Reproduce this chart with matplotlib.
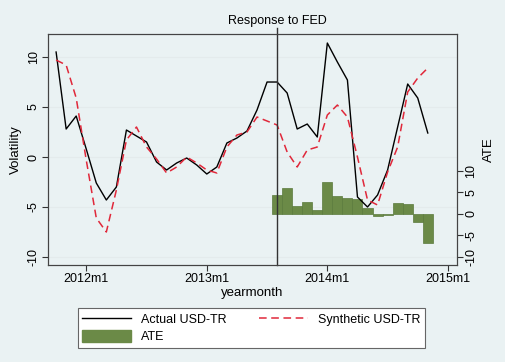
import numpy as np
import matplotlib
matplotlib.use("Agg")
from matplotlib import pyplot as plt
from matplotlib.lines import Line2D
from matplotlib.patches import Patch
from matplotlib.transforms import blended_transform_factory

plt.rcParams['font.family'] = ['Liberation Sans', 'DejaVu Sans']

# Stata %tm month numbers: 2012m1 = 624
months = np.arange(621, 659)
actual = [10.5, 2.8, 4.1, 0.8, -2.6, -4.3, -3.0, 2.7, 2.1, 1.5, -0.5, -1.3,
          -0.6, -0.1, -0.8, -1.7, -1.0, 1.4, 1.9, 2.6, 4.7, 7.5, 7.5, 6.4,
          2.8, 3.3, 2.0, 11.4, 9.5, 7.7, -4.0, -5.0, -3.8, -1.3, 3.0, 7.3,
          5.9, 2.4]
synthetic = [9.7, 9.2, 5.9, -0.3, -6.1, -7.5, -3.3, 1.7, 3.0, 1.0, -0.2, -1.6,
             -1.0, 0.0, -0.6, -1.3, -1.6, 1.0, 2.2, 2.5, 4.0, 3.6, 3.2, 0.5,
             -1.0, 0.7, 1.0, 4.2, 5.2, 4.0, 0.0, -4.3, -4.8, -1.5, 1.0, 6.5,
             7.9, 8.9]
ate_months = np.arange(643, 659)
ate = [4.4, 6.0, 1.9, 2.7, 0.9, 7.5, 4.2, 3.6, 3.4, 1.3, -0.4, -0.2,
       2.5, 2.3, -2.0, -6.7]
fed_month = 643
xticks = [624, 636, 648, 660]
xticklabels = ['2012m1', '2013m1', '2014m1', '2015m1']
yticks = [-10, -5, 0, 5, 10]

bg = '#eaf2f3'
fig = plt.figure(figsize=(5.06, 3.62), dpi=100, facecolor=bg)
ax = fig.add_axes([0.095, 0.268, 0.808, 0.638])
ax2 = ax.twinx()

# grid of the left axis, drawn behind the bars
gridtrans = blended_transform_factory(ax2.transAxes, ax.transData)
for y in yticks:
    ax2.plot([0, 1], [y, y], transform=gridtrans, color='#e4ebec', lw=0.8, zorder=0)

ax2.bar(ate_months, ate, width=1.0, color='#6b8a47', edgecolor='#5a7a3c', linewidth=0.5, zorder=2)
ax2.set_ylim(-11.9, 41.9)
ax2.set_yticks(yticks)
ax2.set_yticklabels([str(v) for v in yticks], rotation=90, va='center', fontsize=9)
ax2.set_ylabel('ATE', fontsize=9.5, labelpad=4)
ax2.patch.set_facecolor('white')

ax.set_zorder(ax2.get_zorder() + 1)
ax.patch.set_visible(False)
ax.plot(months, actual, color='black', lw=1.0)
ax.plot(months, synthetic, color='#e0283a', lw=1.1, ls=(0, (5, 3)))
ax.plot([fed_month, fed_month], [0, 1.025], transform=ax.get_xaxis_transform(),
        color='#333333', lw=1.0, clip_on=False)
ax.text(fed_month, 1.03, 'Response to FED', transform=ax.get_xaxis_transform(),
        ha='center', va='bottom', fontsize=9)

ax.set_xlim(620.2, 660.9)
ax.set_ylim(-10.8, 12.3)
ax.set_xticks(xticks)
ax.set_xticklabels(xticklabels, fontsize=9)
ax.set_yticks(yticks)
ax.set_yticklabels([str(v) for v in yticks], rotation=90, va='center', fontsize=9)
ax.set_ylabel('Volatility', fontsize=9.5, labelpad=4)
ax.set_xlabel('yearmonth', fontsize=9.5, labelpad=1)

for a in (ax, ax2):
    a.tick_params(direction='out', length=4, width=0.8, color='#333333', pad=2)
    for s in a.spines.values():
        s.set_color('#444444')
        s.set_linewidth(0.8)

handles = [Line2D([], [], color='black', lw=1.0),
           Patch(facecolor='#6b8a47', edgecolor='#6b8a47'),
           Line2D([], [], color='#e0283a', lw=1.1, ls=(0, (5, 3)))]
labels = ['Actual USD-TR', 'ATE', 'Synthetic USD-TR']
leg = fig.legend(handles, labels, ncol=2, loc='center', bbox_to_anchor=(0.497, 0.094),
                 fontsize=9, fancybox=False, edgecolor='#666666', framealpha=1,
                 handlelength=3.9, handleheight=1.1, columnspacing=2.6,
                 borderpad=0.35, labelspacing=0.35)
leg.get_frame().set_linewidth(0.8)

plt.savefig('out.png', dpi=100, facecolor=bg)
